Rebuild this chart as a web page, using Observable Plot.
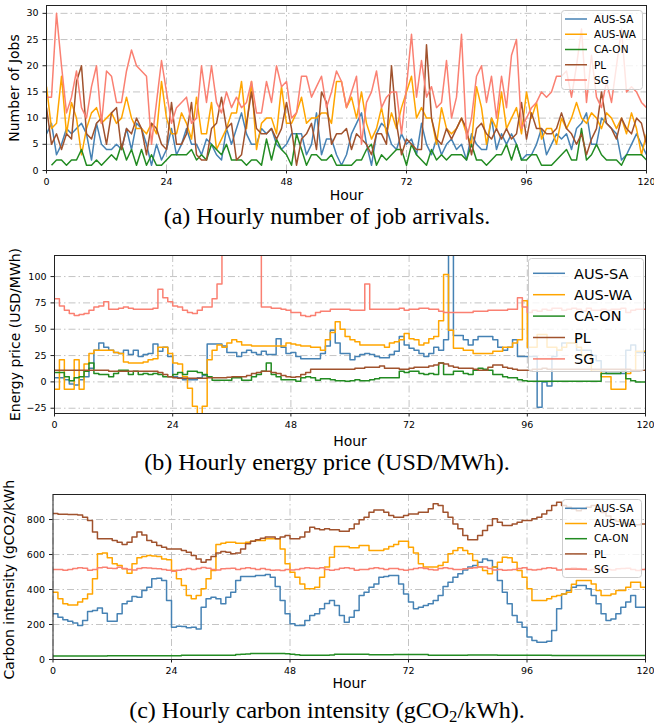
<!DOCTYPE html>
<html>
<head>
<meta charset="utf-8">
<script src="https://cdn.jsdelivr.net/npm/d3@7"></script>
<script src="https://cdn.jsdelivr.net/npm/@observablehq/plot@0.6"></script>
<style>
html, body { margin: 0; padding: 0; background: #fff; }
#root { position: relative; width: 654px; height: 728px; overflow: hidden; font-family: "DejaVu Sans", sans-serif; }
.panel { position: absolute; left: 0; }
.caption { position: absolute; left: 0; width: 654px; text-align: center; font-family: "Liberation Serif", "Times New Roman", serif; font-size: 24px; line-height: 24px; color: #000; white-space: nowrap; }
.sub { font-size: 0.7em; position: relative; top: 0.25em; }
.legend { position: absolute; }
</style>
</head>
<body>
<div id="root"></div>
<script>
// ---------- series ----------
const seriesNames = ["AUS-SA", "AUS-WA", "CA-ON", "PL", "SG"];
const seriesColors = ["#4682b4", "#ffa500", "#228b22", "#a0522d", "#fa8072"];

// ---------- ticks ----------
const hourTicks = [0, 24, 48, 72, 96, 120];
const jobsTicks = [0, 5, 10, 15, 20, 25, 30];
const priceTicks = [-25, 0, 25, 50, 75, 100];
const carbonTicks = [0, 200, 400, 600, 800];

// ---------- (a) hourly number of job arrivals, hours 0..120 ----------
const jobsAusSa = [7,9,3,5,8,7,8,9,7,2, 9,5,4,4,5,4,8,4,9,8, 5,1,5,2,4,8,3,5,8,5, 5,3,6,5,3,2,8,5,8,11,
  7,5,5,8,7,8,5,4,5,7, 7,7,3,5,11,3,6,6,3,1, 3,7,9,11,5,1,7,9,8,5, 4,7,5,6,3,9,5,3,6,3,
  5,6,4,5,2,7,5,4,4,10, 4,7,5,7,5,2,3,3,5,8, 3,5,7,6,7,4,8,9,11,5, 5,10,9,8,7,2,3,5,7,5, 3];
const jobsAusWa = [16,8,9,18,7,13,10,3,8,11, 12,9,10,11,9,10,14,10,8,8, 7,9,7,17,10,7,7,11,9,6, 14,7,7,13,4,6,8,11,11,17,
  8,17,4,9,10,10,7,16,9,9, 11,14,9,10,10,11,11,9,17,17, 12,14,10,15,9,6,8,12,7,11, 8,12,15,18,10,12,10,10,5,12,
  8,7,8,10,7,5,16,12,5,10, 8,15,8,10,12,7,15,10,13,6, 8,8,5,10,8,10,13,10,9,11, 10,8,11,10,8,10,7,11,8,3, 7];
const jobsCaOn = [null,1,2,2,1,2,2,4,1,1, 2,1,2,3,2,5,2,4,1,4, 1,3,1,1,2,3,3,3,3,4, 2,3,2,5,4,3,5,2,2,2,
  1,2,2,1,6,2,6,4,3,1, 7,4,1,3,3,2,2,3,1,1, 1,1,2,2,4,5,1,3,2,3, 4,4,1,5,3,2,1,4,2,3,
  2,3,3,3,2,5,2,2,1,2, 3,3,5,2,5,2,2,3,3,1, 1,1,2,3,4,2,2,8,2,3, 5,3,2,2,2,1,3,3,3,3, 2];
const jobsPl = [12,5,7,4,7,6,17,20,7,6, 9,10,5,11,12,4,8,7,10,8, 3,9,8,5,4,13,5,5,7,13, 3,2,2,8,9,14,8,9,2,3,
  9,15,8,7,7,8,6,8,13,8, 1,6,7,9,4,15,13,5,7,7, 8,4,7,6,5,3,7,7,5,20, 9,3,6,5,4,4,24,10,6,5,
  8,6,8,10,8,3,8,9,7,6, 8,6,8,6,7,13,6,11,8,8, 7,7,8,11,8,7,5,7,3,6, 8,15,9,8,6,10,8,7,10,9, 5];
const jobsSg = [14,14,30,20,11,14,19,12,10,16, 20,9,19,18,13,13,19,23,20,19, 18,5,13,21,15,9,12,13,14,9, 10,20,13,20,13,11,15,12,14,12,
  13,17,11,11,17,13,20,16,17,10, 11,18,18,14,16,18,12,15,19,17, 12,15,18,5,13,15,19,12,14,15, 15,7,16,26,14,21,14,16,12,13,
  21,10,14,26,6,10,18,20,13,18, 10,18,12,22,25,8,10,12,13,15, 14,15,18,18,19,14,20,27,13,22, 14,12,17,13,20,27,15,16,15,13, 12];

// ---------- (b) hourly energy price (USD/MWh) ----------
const priceAusSa = [4,4,2,-2,-3,2,5,13,30,37, 33,30,28,27,30,26,30,24,26,27, 36,29,33,24,5,4,2,2,2,4, 6,36,36,36,34,28,28,24,28,30,
  28,26,29,26,26,41,33,27,28,24, 22,22,22,22,27,34,49,37,27,27, 21,24,26,27,26,24,23,23,26,29, 43,35,32,30,27,24,27,33,30,40,
  200,44,44,40,35,40,43,43,43,40, 33,30,33,40,24,24,24,24,-24,0, -4,24,30,37,37,37,30,30,30,25, 20,10,8,8,8,8,30,35,28,28, 28];
const priceAusWa = [-7,21,-7,-7,21,-7,17,27,30,30, 30,30,28,27,19,18,18,18,19,21, 22,33,33,27,18,17,5,-6,-23,-40, -23,21,30,35,33,37,40,38,35,35,
  34,34,34,34,34,34,34,37,36,35, 34,34,33,33,30,40,47,57,50,43, 40,38,35,35,35,35,35,33,37,38, 40,46,41,40,35,37,41,43,58,102,
  49,32,32,30,30,27,27,27,27,29, 29,33,33,37,40,77,33,33,45,45, 33,33,30,33,37,37,33,25,25,10, 10,5,5,-7,-7,-7,8,10,29,29, 29];
const priceCaOn = [9,9,5,1,4,5,10,18,8,7, 7,5,8,11,11,7,10,7,8,7, 8,7,5,5,7,9,7,10,10,9, 7,5,1.5,1.5,1.5,1.5,4,4,1.5,1.5,
  5,7,10,18,7,5,2,2,2,0.5, 4,5,4,1.5,3,3,2,1,1,0.5, 1,2,1,1,2,3,4,4,4,4, 10,9,10,10,8,7,8,7,18,7,
  7,10,10,8,7,11,13,12,11,7, 7,5,4,4,2,1,0.5,0.5,0.5,0.5, 0.5,0.5,0.5,0.5,0.5,0.5,0.5,0.5,0.5,0.5, 0.5,8,8,8,8,10,3,1,0,0, 0];
const pricePl = [11,11,11,11,11,11,11,11,11,11, 11,10,10,10,10,10,10,10,10,10, 10,9,7,5,4,3.5,3.5,3.5,3.5,3.5, 3.5,4,4,4,4,4.5,5,5,5,6,
  8,9,10,10,9,8,6,5,4.5,5, 7,9,12,12,12,12,12,12,12,12, 12,13,13,14,14,14,15,13,13,13, 12,12,13,14,14,14,15,16,18,17,
  15,14,13,13,13,12,11,11,14,16, 16,14,13,12,11,11,11,12,12,13, 12,12,12,12,12,12,12,12,12,12, 12,12,12,12,12,12,12,11,11,11, 11];
const priceSg = [79,72,68,65,63,64,65,68,71,72, 76,69,69,70,71,70,69,69,69,69, 70,88,80,76,72,71,68,66,65,68, 71,71,79,93,200,200,200,200,200,200,
  200,200,71,71,70,70,69,68,66,66, 63,62,63,66,67,67,69,69,69,69, 68,68,68,93,69,69,69,69,69,69, 70,68,69,69,70,70,69,69,67,66,
  66,66,66,66,66,67,67,67,68,68, 68,68,69,69,80,71,66,68,67,69, 68,70,70,68,69,70,69,67,70,68, 68,69,68,69,69,70,66,68,69,69, 69];

// ---------- (c) hourly carbon intensity (gCO2/kWh) ----------
const carbonAusSa = [261,242,227,219,208,194,223,274,280,295, 265,219,219,261,318,333,360,356,394,413, 461,465,451,337,185,190,189,181,185,175,
  299,347,356,347,318,356,385,451,474,474, 474,480,480,486,470,417,337,261,204,194, 194,223,251,261,290,320,337,309,251,213,
  242,280,366,385,413,432,470,474,480,480, 432,375,328,290,299,309,318,337,366,417, 442,470,490,512,528,537,556,575,566,528,
  451,385,318,251,213,185,128,109,99,99, 105,166,290,375,394,413,423,423,404,366, 318,261,223,232,261,299,328,366,299,299, 299];
const carbonAusWa = [385,347,318,312,312,328,347,375,461,604, 608,581,547,537,518,493,547,581,589,594, 592,589,575,570,509,461,423,366,347,366,
  404,461,509,657,665,670,670,665,665,670, 676,680,680,690,690,690,632,547,499,470, 432,404,404,413,470,528,585,646,646,646,
  638,638,651,651,623,623,623,632,646,657, 676,676,642,608,547,528,528,528,537,556, 604,623,638,623,604,566,528,509,490,528,
  556,585,581,556,509,470,404,337,337,337, 347,360,366,375,385,430,451,451,451,432, 394,366,366,375,394,394,413,442,442,413, 413];
const carbonCaOn = [20,20,20,20,20,20,20,20,20,20, 20,22,22,22,22,22,22,22,22,22, 22,22,22,22,22,22,24,24,24,24,
  24,24,24,24,24,24,24,28,30,32, 35,35,35,35,35,35,35,33,30,27, 24,24,24,24,24,24,26,30,30,30,
  30,30,30,30,27,27,27,27,27,28, 28,28,28,28,28,28,24,24,24,24, 24,24,24,24,26,26,26,26,26,26,
  24,24,24,24,24,24,24,24,24,24, 24,23,23,23,23,23,23,23,23,23, 23,23,23,23,23,23,23,23,23,23, 23];
const carbonPl = [835,830,830,828,828,826,813,795,728,690, 690,690,680,670,657,670,700,728,712,680, 670,651,642,632,632,632,623,613,594,575,
  556,570,589,608,617,613,604,608,632,661, 676,684,693,700,700,690,700,709,690,690, 700,728,756,747,741,747,741,741,733,733,
  747,775,798,813,842,855,855,842,823,813, 813,823,832,832,842,842,861,890,880,842, 813,775,747,709,684,684,709,737,766,804,
  785,766,766,775,785,794,794,804,813,832, 851,880,899,880,870,860,850,860,870,880, 860,840,820,800,790,780,775,770,770,775, 775];
const carbonSg = [514,514,510,514,520,525,522,510,515,525, 527,522,520,527,520,515,512,520,525,523, 520,518,515,510,505,510,515,520,515,520,
  526,522,515,512,518,520,522,515,520,525, 520,515,520,515,510,512,508,515,512,515, 520,525,522,520,525,515,510,515,522,525,
  520,510,515,515,520,525,520,515,520,520, 515,510,515,520,525,520,515,512,520,525, 520,515,515,518,522,525,530,528,520,512,
  515,510,512,515,520,525,515,512,515,520, 525,522,512,515,520,525,520,512,510,515, 520,522,515,512,518,520,522,515,508,515, 525];

// ---------- helpers ----------
function longTable(arrays) {
  const rows = [];
  arrays.forEach((arr, i) => arr.forEach((v, h) => {
    if (v != null) rows.push({series: seriesNames[i], hour: h, value: v});
  }));
  return rows;
}

const gridStyle = {stroke: "#c4c4c4", strokeOpacity: 1, strokeWidth: 1, strokeDasharray: "7,3,1.5,3"};

function panel(o) {
  return Plot.plot({
    width: 654,
    height: o.height,
    marginLeft: o.marginLeft,
    marginRight: o.marginRight,
    marginTop: o.marginTop,
    marginBottom: o.marginBottom,
    style: {background: "transparent", fontFamily: "DejaVu Sans", fontSize: "9.5px", overflow: o.overflow, color: "#000"},
    x: {domain: [0, 120]},
    y: {domain: o.yDomain},
    color: {domain: seriesNames, range: seriesColors},
    marks: [
      Plot.gridX(hourTicks, gridStyle),
      Plot.gridY(o.yTicks, gridStyle),
      Plot.line(o.data, {x: "hour", y: "value", z: "series", stroke: "series", strokeWidth: 1.5,
        curve: o.curve, clip: true, strokeLinecap: "butt", strokeLinejoin: "round"}),
      Plot.frame({stroke: "#222", strokeWidth: 1}),
      Plot.axisX(hourTicks, {tickSize: 3.5, tickPadding: 4, label: null, fontSize: 9.5, stroke: "#222"}),
      Plot.axisY(o.yTicks, {tickSize: 3.5, tickPadding: 4.5, label: null, fontSize: 9.5, stroke: "#222"}),
      Plot.text(["Hour"], {frameAnchor: "bottom", textAnchor: "middle", lineAnchor: "middle", dy: o.hourDy, fontSize: 14, fill: "#000"}),
      Plot.text([o.ylabel], {frameAnchor: "left", textAnchor: "middle", lineAnchor: "middle", rotate: -90, dx: o.ylabelDx, fontSize: 14, fill: "#000"})
    ]
  });
}

function place(root, node, top) {
  node.classList.add("panel");
  node.style.position = "absolute";
  node.style.top = top + "px";
  node.style.left = "0px";
  root.appendChild(node);
}

function legend(root, L) {
  const svg = d3.select(root).append("svg")
    .attr("class", "legend")
    .attr("width", L.width).attr("height", L.height)
    .style("left", L.left + "px").style("top", L.top + "px");
  svg.append("rect").attr("x", 0.5).attr("y", 0.5)
    .attr("width", L.width - 1).attr("height", L.height - 1).attr("rx", 3)
    .attr("fill", "white").attr("fill-opacity", 0.8).attr("stroke", "#cccccc");
  seriesNames.forEach((name, i) => {
    const cy = L.first + i * L.step;
    svg.append("line").attr("x1", L.x0).attr("x2", L.x1).attr("y1", cy).attr("y2", cy)
      .attr("stroke", seriesColors[i]).attr("stroke-width", 1.5);
    svg.append("text").attr("x", L.tx).attr("y", cy).attr("dy", "0.36em")
      .attr("font-family", "DejaVu Sans").attr("font-size", L.fontSize).attr("fill", "#000").text(name);
  });
}

function caption(root, html, top) {
  const d = document.createElement("div");
  d.className = "caption";
  d.style.top = top + "px";
  d.innerHTML = html;
  root.appendChild(d);
}

const root = document.getElementById("root");

// (a)
place(root, panel({
  data: longTable([jobsAusSa, jobsAusWa, jobsCaOn, jobsPl, jobsSg]),
  height: 205, marginLeft: 46, marginRight: 8, marginTop: 5, marginBottom: 35,
  yDomain: [0, 31.5], yTicks: jobsTicks, curve: "linear", overflow: "visible",
  ylabel: "Number of Jobs", ylabelDx: -32, hourDy: 25
}), 0);

// (b)
place(root, panel({
  data: longTable([priceAusSa, priceAusWa, priceCaOn, pricePl, priceSg]),
  height: 210, marginLeft: 54, marginRight: 9, marginTop: 15, marginBottom: 37,
  yDomain: [-30, 120], yTicks: priceTicks, curve: "step-after", overflow: "visible",
  ylabel: "Energy price (USD/MWh)", ylabelDx: -38.5, hourDy: 28
}), 240);

// (c) — the y-axis title is cut at the panel's top edge, as in the reference
place(root, panel({
  data: longTable([carbonAusSa, carbonAusWa, carbonCaOn, carbonPl, carbonSg]),
  height: 216, marginLeft: 52.5, marginRight: 9, marginTop: 15, marginBottom: 36,
  yDomain: [0, 943], yTicks: carbonTicks, curve: "step-after", overflow: "hidden",
  ylabel: "Carbon intensity (gCO2/kWh)", ylabelDx: -43, hourDy: 24
}), 479);

legend(root, {left: 561, top: 10, width: 82, height: 80, first: 9, step: 15.25, x0: 4, x1: 26, tx: 33, fontSize: 10.5});
legend(root, {left: 528, top: 258, width: 116, height: 114, first: 15.3, step: 21.4, x0: 5, x1: 37, tx: 46, fontSize: 14.5});
legend(root, {left: 562, top: 499, width: 80, height: 79, first: 9.3, step: 15.2, x0: 3, x1: 25, tx: 32, fontSize: 10.5});

caption(root, "(a) Hourly number of job arrivals.", 204);
caption(root, "(b) Hourly energy price (USD/MWh).", 450);
caption(root, "(c) Hourly carbon intensity (gCO<span class=\"sub\">2</span>/kWh).", 698);
</script>
</body>
</html>
